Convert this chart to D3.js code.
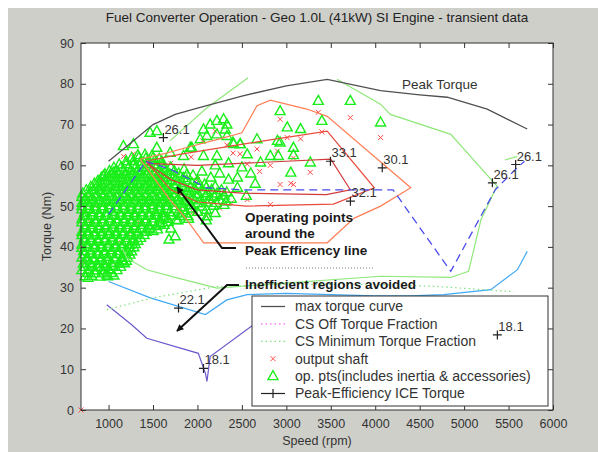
<!DOCTYPE html>
<html>
<head>
<meta charset="utf-8">
<script src="https://cdn.jsdelivr.net/npm/d3@7/dist/d3.min.js"></script>
<style>
  body { margin: 0; background: #fff; }
  text { font-family: Arial, "Liberation Sans", Helvetica, sans-serif; }
</style>
</head>
<body>
<div id="chart"></div>
<script>
// speed in rpm, torque in Nm
const xTicks = [1000, 1500, 2000, 2500, 3000, 3500, 4000, 4500, 5000, 5500, 6000];
const yTicks = [0, 10, 20, 30, 40, 50, 60, 70, 80, 90];

// max torque curve ("Peak Torque")
const maxTorque = [[1000,61],[1250,65.5],[1500,70],[1750,72.5],[2000,74],[2500,77],[3000,79.5],
  [3460,81.1],[4060,78.3],[4500,77.3],[4810,76.7],[5260,73.8],[5710,68.9]];

// efficiency contours
const effCoral = [[1355,61.5],[1650,63],[1900,64.5],[2250,66.5],[2500,68],[2670,74.6],[2820,76],
  [3230,73.8],[3460,72],[4400,54.5],[4060,50],[3760,47],[3460,41],[2070,41],[1880,46.7],[1690,51.6],[1355,61.5]];
const effRed1 = [[1420,61],[1800,62.7],[2600,65.5],[3460,68.4],[3990,54.5],[3530,50.5],[2550,50],
  [2000,51],[1700,54],[1420,61]];
const effRed2 = [[1430,60.5],[2000,60],[3000,61],[3500,61.5],[3720,54],[3450,52.8],[2500,53.2],
  [2000,54],[1700,56.5],[1430,60.5]];
const effGreenA = [[1690,66],[2100,74],[2570,81.5]];
const effGreenB = [[3570,81.1],[4060,75],[4170,72.5],[4850,67.6],[5370,54.9],[5190,46.7],[5050,34],
  [4850,32.5],[4060,32.8],[2220,29.9],[1770,32.4],[1430,34.4],[1205,37.3],[1160,39.5]];
const effGreenC = [[5460,61.3],[5600,62.2]];
const effBlue = [[1000,31.5],[1470,27.5],[2090,23.4],[2330,27],[2560,28.3],[3000,28.6],[3500,28.3],
  [4000,28],[4400,28],[4770,28.3],[5300,29.5],[5600,34.4],[5710,38.9]];
const effPurple = [[980,25.8],[1260,20.9],[1430,17.6],[2010,13.9],[2090,9],[2107,7],[2143,13.1],
  [2630,20.9],[3000,24],[3400,26]];

// peak efficiency line and CS minimum torque fraction
const peakEffLine = [[1000,48],[1420,61],[1700,59],[2100,54.5],[2500,54],[4200,54],[4850,34],
  [5350,54],[5600,59.5],[5680,61]];
const csMinTorque = [[980,24.6],[1500,27.5],[2220,30.3],[3000,30.8],[4000,30.8],[4700,30.3],[5560,29]];

// peak efficiency ICE torque points with their efficiency labels
const peakEffPts = [[1617,66.8],[3496,61],[4079,59.4],[3721,51.2],[5318,55.7],[5580,60.2],
  [1787,25],[2068,10.2],[5374,18.4]];
const peakEffLabels = ["26.1","33.1","30.1","32.1","26.1","26.1","22.1","18.1","18.1"];

// output shaft points
const outputShaft = [[2930,71.3],[3720,71.7],[4060,66.8],[3400,68.2],[3160,66.5],[3010,66.8],[2900,63.5],
  [3080,61.8],[2700,58.5],[3050,55.6],[2930,55.3],[3080,55.3],[2820,50.4],[2560,51.6],[3270,58.3],
  [2400,63],[2480,62.8],[2200,68.4],[2060,66],[2330,65],[1930,62],[1700,60.5],[1540,62],[1280,62.8],
  [1170,62.2],[2820,60],[2560,60.3],[3360,73],[2670,64],[1800,49],[1950,48.5],[2100,47.6],[2250,49.5],
  [2380,50.8],[2150,51.5],[1900,52],[1650,50.5],[1500,48.2],[1350,46],[1250,43.5],[1100,41],[950,44],
  [800,46],[720,48.5],[760,52],[850,50],[700,40],[730,36],[2300,53.5],[2000,56.5],[1750,57.5],[1600,59],[690,0]];

// operating points (includes inertia & accessories)
const opPtsScattered = [[3360,75.8],[3720,75.8],[4060,70.5],[2930,73.3],[3400,70.9],[3010,69.3],[3160,68.9],
  [2670,66.4],[2900,66],[3080,64.3],[2480,65.2],[2910,62.3],[3080,62.5],[3270,60.7],[3050,58.2],[2710,60.7],
  [2820,62.3],[2560,62.7],[2400,65.6],[1920,64.3],[2930,65.6],[1167,64.7],[1280,65.2],[1467,68],[1543,68.4],
  [1937,64.3],[2068,68.8],[2143,70],[2219,70.9],[2294,71.3],[2332,70],[2313,68.8],[2219,67.6],[2106,67.2],
  [2031,66.4],[2332,67.2],[2407,65.2],[2482,65.2],[2068,62.3],[2219,62.3],[1843,62.3],[1693,63.1],[1543,64.3],
  [1054,58.2],[942,57.4],[904,54.9],[716,47.5],[1750,42.6],[1430,44.3],[1580,45.5],[1895,47.5],[2107,47.5],
  [770,32.4],[980,33.2],[1000,34.4],[1220,38.8],[1160,36.4],[1850,59],[1950,57.5],[2050,58.5],[2150,57],
  [2250,58],[2350,56.5],[2450,57],[2200,60],[2350,60.5],[2500,59.5],[2600,58],[2650,55.5],[2450,54.5],
  [2550,52.5],[1620,47],[1700,44.5],[1780,46.5],[1680,41.8]];
const opPtsDense = [
  [735,32.8],[810,32.9],[905,32.7],[990,32.8],[1060,33],
  [700,34.3],[775,34.4],[850,34.2],[930,34.3],[1010,34.5],[1095,34.3],
  [715,35.9],[790,36],[870,35.8],[945,35.9],[1030,36.1],[1120,35.9],[1180,36],
  [700,37.4],[760,37.5],[840,37.3],[915,37.4],[990,37.6],[1065,37.4],[1150,37.5],[1215,37.3],
  [720,39],[800,39.1],[875,38.9],[955,39],[1035,39.2],[1110,39],[1190,39.1],[1260,38.9],
  [700,40.6],[765,40.7],[845,40.5],[920,40.6],[1000,40.8],[1080,40.6],[1160,40.7],[1240,40.5],[1300,40.7],
  [725,42.1],[800,42.2],[880,42],[960,42.1],[1040,42.3],[1120,42.1],[1200,42.2],[1280,42],[1360,42.2],
  [700,43.7],[770,43.8],[850,43.6],[930,43.7],[1010,43.9],[1090,43.7],[1170,43.8],[1250,43.6],[1330,43.8],
  [1420,43.7],[1500,43.9],
  [735,45.3],[815,45.4],[895,45.2],[975,45.3],[1055,45.5],[1135,45.3],[1215,45.4],[1295,45.2],[1375,45.4],
  [1455,45.3],[1540,45.1],[1625,45.4],
  [700,46.8],[780,46.9],[860,46.7],[940,46.8],[1020,47],[1100,46.8],[1180,46.9],[1260,46.7],[1340,46.9],
  [1420,46.8],[1500,47],[1580,46.7],[1665,46.9],[1760,46.6],[1900,46.9],[2100,46.5],
  [730,48.4],[810,48.5],[890,48.3],[970,48.4],[1050,48.6],[1130,48.4],[1210,48.5],[1290,48.3],[1370,48.5],
  [1450,48.4],[1530,48.6],[1610,48.3],[1690,48.5],[1780,48.4],[1870,48.2],[2000,48.6],[2200,48.3],
  [700,50],[775,50.1],[855,49.9],[935,50],[1015,50.2],[1095,50],[1175,50.1],[1255,49.9],[1335,50.1],
  [1415,50],[1495,50.2],[1575,49.9],[1655,50.1],[1740,50],[1830,49.8],[1930,50.2],[2050,49.9],[2180,50.1],[2300,50.3],
  [730,51.5],[810,51.6],[890,51.4],[970,51.5],[1050,51.7],[1130,51.5],[1210,51.6],[1290,51.4],[1370,51.6],
  [1450,51.5],[1530,51.7],[1610,51.4],[1690,51.6],[1775,51.5],[1860,51.3],[1950,51.7],[2040,51.4],[2140,51.6],
  [2250,51.5],[2380,51.8],
  [710,53.1],[790,53.2],[870,53],[950,53.1],[1030,53.3],[1110,53.1],[1190,53.2],[1270,53],[1350,53.2],
  [1430,53.1],[1510,53.3],[1590,53],[1670,53.2],[1750,53.1],[1835,52.9],[1920,53.3],[2010,53],[2110,53.2],
  [2220,53.1],[2330,53.4],
  [800,54.7],[870,54.8],[950,54.6],[1030,54.7],[1110,54.9],[1190,54.7],[1270,54.8],[1350,54.6],[1430,54.8],
  [1510,54.7],[1590,54.9],[1670,54.6],[1750,54.8],[1830,54.7],[1920,54.5],[2010,54.9],[2100,54.6],[2200,54.8],
  [880,56.2],[960,56.3],[1040,56.1],[1120,56.2],[1200,56.4],[1280,56.2],[1360,56.3],[1440,56.1],[1520,56.3],
  [1600,56.2],[1690,56.4],[1780,56.1],[1880,56.3],[2000,56.2],
  [960,57.8],[1040,57.9],[1120,57.7],[1200,57.8],[1280,58],[1360,57.8],[1440,57.9],[1520,57.7],[1600,57.9],
  [1690,57.8],[1790,58],[1880,57.7],
  [1060,59.4],[1140,59.5],[1220,59.3],[1300,59.4],[1380,59.6],[1460,59.4],[1540,59.5],[1620,59.3],[1700,59.5],
  [1200,61],[1280,61.1],[1360,60.9],[1440,61],[1520,61.2],[1600,60.9],
  [1330,62.5],[1410,62.6],[1490,62.4]
];
// second layer of the dense cloud, sitting between the points above
const opPtsDense2 = [
  [770,33.6],[850,33.5],[945,33.7],[1030,33.6],
  [735,35.1],[815,35.2],[890,35],[970,35.1],[1050,35.3],[1135,35.1],
  [750,36.7],[830,36.8],[905,36.6],[985,36.7],[1070,36.9],[1150,36.7],[1200,36.6],
  [730,38.2],[800,38.3],[880,38.1],[955,38.2],[1030,38.4],[1105,38.2],[1185,38.3],[1240,38.1],
  [700,39.8],[760,39.9],[840,39.7],[915,39.8],[995,40],[1075,39.8],[1150,39.9],[1230,39.7],[1285,39.9],
  [730,41.4],[805,41.5],[885,41.3],[960,41.4],[1040,41.6],[1120,41.4],[1200,41.5],[1270,41.3],[1330,41.5],
  [700,42.9],[765,43],[840,42.8],[920,42.9],[1000,43.1],[1080,42.9],[1160,43],[1240,42.8],[1320,43],[1400,42.9],
  [735,44.5],[810,44.6],[890,44.4],[970,44.5],[1050,44.7],[1130,44.5],[1210,44.6],[1290,44.4],[1375,44.6],
  [1460,44.5],[1550,44.3],
  [700,46],[775,46.1],[855,45.9],[935,46],[1015,46.2],[1095,46],[1175,46.1],[1255,45.9],[1335,46.1],
  [1415,46],[1500,46.2],[1580,45.9],[1670,46.1],
  [740,47.6],[820,47.7],[900,47.5],[980,47.6],[1060,47.8],[1140,47.6],[1220,47.7],[1300,47.5],[1380,47.7],
  [1460,47.6],[1540,47.8],[1620,47.5],[1710,47.7],[1820,47.6],
  [700,49.2],[770,49.3],[850,49.1],[930,49.2],[1010,49.4],[1090,49.2],[1170,49.3],[1250,49.1],[1330,49.3],
  [1410,49.2],[1490,49.4],[1570,49.1],[1650,49.3],[1740,49.2],[1830,49],[1940,49.4],[2100,49.1],
  [700,50.8],[770,50.9],[850,50.7],[930,50.8],[1010,51],[1090,50.8],[1170,50.9],[1250,50.7],[1330,50.9],
  [1410,50.8],[1490,51],[1570,50.7],[1650,50.9],[1730,50.8],[1820,50.6],[1910,51],[2000,50.7],[2100,50.9],
  [2210,50.8],[2320,51.1],
  [700,52.3],[770,52.4],[850,52.2],[930,52.3],[1010,52.5],[1090,52.3],[1170,52.4],[1250,52.2],[1330,52.4],
  [1410,52.3],[1490,52.5],[1570,52.2],[1650,52.4],[1735,52.3],[1820,52.1],[1905,52.5],[1995,52.2],[2090,52.4],
  [2190,52.3],[2300,52.6],
  [750,53.9],[830,54],[910,53.8],[990,53.9],[1070,54.1],[1150,53.9],[1230,54],[1310,53.8],[1390,54],
  [1470,53.9],[1550,54.1],[1630,53.8],[1710,54],[1790,53.9],[1880,53.7],[1965,54.1],[2060,53.8],[2160,54],[2270,53.9],
  [840,55.5],[920,55.6],[1000,55.4],[1080,55.5],[1160,55.7],[1240,55.5],[1320,55.6],[1400,55.4],[1480,55.6],
  [1560,55.5],[1640,55.7],[1730,55.4],[1830,55.6],[1940,55.5],[2080,55.3],
  [920,57],[1000,57.1],[1080,56.9],[1160,57],[1240,57.2],[1320,57],[1400,57.1],[1480,56.9],[1560,57.1],
  [1640,57],[1735,57.2],[1840,56.9],
  [1010,58.6],[1090,58.7],[1170,58.5],[1250,58.6],[1330,58.8],[1410,58.6],[1490,58.7],[1570,58.5],[1650,58.7],[1740,58.6],
  [1120,60.2],[1200,60.3],[1280,60.1],[1360,60.2],[1440,60.4],[1520,60.2],[1600,60.1],
  [1260,61.8],[1340,61.9],[1420,61.7],[1500,61.8],[1570,61.6]
];

const legendLabels = ["max torque curve", "CS Off Torque Fraction", "CS Minimum Torque Fraction",
  "output shaft", "op. pts(includes inertia & accessories)", "Peak-Efficiency ICE Torque"];

// frame of the axes in the 598x452 window
const frame = { left: 81, right: 553, top: 43, bottom: 410 };

const svg = d3.select("#chart")
  .append("svg")
  .attr("width", 598)
  .attr("height", 452);

// grey figure background and white axes
svg.append("rect").attr("width", 598).attr("height", 452).attr("fill", "#fff");
svg.append("rect").attr("x", 8).attr("y", 8).attr("width", 590).attr("height", 444).attr("fill", "#cfcfca");
svg.append("rect")
  .attr("x", frame.left).attr("y", frame.top)
  .attr("width", frame.right - frame.left).attr("height", frame.bottom - frame.top)
  .attr("fill", "#fff");

const x = d3.scaleLinear().domain([690, 6000]).range([frame.left, frame.right]);
const y = d3.scaleLinear().domain([0, 90]).range([frame.bottom, frame.top]);

const line = d3.line()
  .x(d => x(d[0]))
  .y(d => y(d[1]));

// output shaft crosses
const cross = "M-2.5,-2.5L2.5,2.5M-2.5,2.5L2.5,-2.5";
svg.selectAll(".shaft")
  .data(outputShaft)
  .enter()
  .append("path")
  .attr("class", "shaft")
  .attr("transform", d => `translate(${x(d[0])},${y(d[1])})`)
  .attr("d", cross)
  .attr("stroke", "#ff4a4a")
  .attr("stroke-width", 1)
  .attr("fill", "none");

// operating point triangles
const tri = "M0,-5.5L5,3.5L-5,3.5Z";
svg.selectAll(".op")
  .data(opPtsDense.concat(opPtsDense2, opPtsScattered))
  .enter()
  .append("path")
  .attr("class", "op")
  .attr("transform", d => `translate(${x(d[0])},${y(d[1])})`)
  .attr("d", tri)
  .attr("fill", "none")
  .attr("stroke", "#1aee1a")
  .attr("stroke-width", 1.4);

// contour lines, drawn over the cloud
const contours = [
  { data: effGreenA, color: "#8fe87a" },
  { data: effGreenB, color: "#8fe87a" },
  { data: effGreenC, color: "#8fe87a" },
  { data: effBlue, color: "#3fa9f5" },
  { data: effPurple, color: "#6a5acd" },
  { data: effCoral, color: "#ff7f55" },
  { data: effRed1, color: "#ea4a3c" },
  { data: effRed2, color: "#d23a3a" }
];
svg.selectAll(".contour")
  .data(contours)
  .enter()
  .append("path")
  .attr("class", "contour")
  .attr("fill", "none")
  .attr("stroke", d => d.color)
  .attr("stroke-width", 1.2)
  .attr("d", d => line(d.data));

// CS minimum torque fraction (dotted)
svg.append("path")
  .attr("fill", "none")
  .attr("stroke", "#7fe07f")
  .attr("stroke-width", 1.2)
  .attr("stroke-dasharray", "1.5,3")
  .attr("d", line(csMinTorque));

// max torque curve
svg.append("path")
  .attr("fill", "none")
  .attr("stroke", "#505050")
  .attr("stroke-width", 1.3)
  .attr("d", line(maxTorque));

// peak efficiency line (dashed)
svg.append("path")
  .attr("fill", "none")
  .attr("stroke", "#4b4bee")
  .attr("stroke-width", 1.3)
  .attr("stroke-dasharray", "8,5")
  .attr("d", line(peakEffLine));

// axes, ticks pointing inwards on all four sides
svg.append("g")
  .attr("transform", `translate(0,${frame.bottom})`)
  .call(d3.axisBottom(x).tickValues(xTicks).tickSize(-5).tickPadding(9).tickFormat(d3.format("d")));
svg.append("g")
  .attr("transform", `translate(0,${frame.top})`)
  .call(d3.axisTop(x).tickValues(xTicks).tickSize(-5).tickFormat(""));
svg.append("g")
  .attr("transform", `translate(${frame.left},0)`)
  .call(d3.axisLeft(y).tickValues(yTicks).tickSize(-5).tickPadding(7));
svg.append("g")
  .attr("transform", `translate(${frame.right},0)`)
  .call(d3.axisRight(y).tickValues(yTicks).tickSize(-5).tickFormat(""));
svg.selectAll(".domain").remove();
svg.selectAll(".tick line").attr("stroke", "#333");
svg.selectAll(".tick text")
  .attr("font-size", 12.5)
  .attr("font-family", "Arial, 'Liberation Sans', sans-serif")
  .attr("fill", "#333");

svg.append("rect")
  .attr("x", frame.left).attr("y", frame.top)
  .attr("width", frame.right - frame.left).attr("height", frame.bottom - frame.top)
  .attr("fill", "none")
  .attr("stroke", "#333")
  .attr("stroke-width", 1);

// title and axis labels
svg.append("text")
  .attr("x", (frame.left + frame.right) / 2)
  .attr("y", 22)
  .attr("text-anchor", "middle")
  .attr("font-size", 13.5)
  .attr("fill", "#222")
  .text("Fuel Converter Operation - Geo 1.0L (41kW) SI Engine - transient data");
svg.append("text")
  .attr("x", (frame.left + frame.right) / 2)
  .attr("y", 445)
  .attr("text-anchor", "middle")
  .attr("font-size", 12.5)
  .attr("fill", "#333")
  .text("Speed (rpm)");
svg.append("text")
  .attr("transform", `translate(51,${(frame.top + frame.bottom) / 2}) rotate(-90)`)
  .attr("text-anchor", "middle")
  .attr("font-size", 12.5)
  .attr("fill", "#333")
  .text("Torque (Nm)");

// "Peak Torque" label
svg.append("text")
  .attr("x", 402)
  .attr("y", 89)
  .attr("font-size", 13.5)
  .attr("fill", "#333")
  .text("Peak Torque");

// annotations with arrows
svg.append("defs").append("marker")
  .attr("id", "head")
  .attr("viewBox", "0 0 10 10")
  .attr("refX", 9).attr("refY", 5)
  .attr("markerWidth", 9).attr("markerHeight", 7)
  .attr("markerUnits", "userSpaceOnUse")
  .attr("orient", "auto")
  .append("path")
  .attr("d", "M0,0L10,5L0,10Z")
  .attr("fill", "#111");

svg.append("path")
  .attr("d", "M236,248L222,248L177,187")
  .attr("fill", "none")
  .attr("stroke", "#111")
  .attr("stroke-width", 2)
  .attr("marker-end", "url(#head)");
svg.append("path")
  .attr("d", "M239,285L227,285L177,331")
  .attr("fill", "none")
  .attr("stroke", "#111")
  .attr("stroke-width", 2)
  .attr("marker-end", "url(#head)");

const noteLines = [["Operating points", 221.5], ["around the", 237.5], ["Peak Efficency line", 254.5],
  ["Inefficient regions avoided", 289]];
svg.selectAll(".note")
  .data(noteLines)
  .enter()
  .append("text")
  .attr("class", "note")
  .attr("x", 245)
  .attr("y", d => d[1])
  .attr("font-size", 13.5)
  .attr("font-weight", "bold")
  .attr("fill", "#1a1a1a")
  .text(d => d[0]);
svg.append("line")
  .attr("x1", 246).attr("x2", 375)
  .attr("y1", 268).attr("y2", 268)
  .attr("stroke", "#777")
  .attr("stroke-dasharray", "1,2");

// legend
const legend = svg.append("g");
legend.append("rect")
  .attr("x", 252).attr("y", 296)
  .attr("width", 296).attr("height", 110)
  .attr("fill", "#fff")
  .attr("stroke", "#333");
const legendY = i => 306.5 + i * 17.4;
legend.selectAll(".legtext")
  .data(legendLabels)
  .enter()
  .append("text")
  .attr("x", 295)
  .attr("y", (d, i) => legendY(i))
  .attr("dy", "0.35em")
  .attr("font-size", 14)
  .attr("fill", "#333")
  .text(d => d);
legend.append("line").attr("x1", 261).attr("x2", 285).attr("y1", legendY(0)).attr("y2", legendY(0))
  .attr("stroke", "#505050").attr("stroke-width", 1.3);
legend.append("line").attr("x1", 261).attr("x2", 285).attr("y1", legendY(1)).attr("y2", legendY(1))
  .attr("stroke", "#ff66ff").attr("stroke-width", 1.2).attr("stroke-dasharray", "1.5,3");
legend.append("line").attr("x1", 261).attr("x2", 285).attr("y1", legendY(2)).attr("y2", legendY(2))
  .attr("stroke", "#7fe07f").attr("stroke-width", 1.2).attr("stroke-dasharray", "1.5,3");
legend.append("path").attr("transform", `translate(273,${legendY(3)})`).attr("d", cross)
  .attr("stroke", "#ff4a4a").attr("fill", "none");
legend.append("path").attr("transform", `translate(273,${legendY(4)})`).attr("d", tri)
  .attr("stroke", "#1aee1a").attr("stroke-width", 1.3).attr("fill", "none");
legend.append("line").attr("x1", 261).attr("x2", 285).attr("y1", legendY(5)).attr("y2", legendY(5))
  .attr("stroke", "#222").attr("stroke-width", 1.2);
legend.append("path").attr("transform", `translate(273,${legendY(5)})`).attr("d", "M-4.5,0L4.5,0M0,-4.5L0,4.5")
  .attr("stroke", "#222").attr("stroke-width", 1.2);

// peak efficiency ICE torque markers, drawn last (one sits over the legend)
const plus = "M-4.5,0L4.5,0M0,-4.5L0,4.5";
svg.selectAll(".pe")
  .data(peakEffPts)
  .enter()
  .append("path")
  .attr("class", "pe")
  .attr("transform", d => `translate(${x(d[0])},${y(d[1])})`)
  .attr("d", plus)
  .attr("stroke", "#222")
  .attr("stroke-width", 1.2);
svg.selectAll(".pelabel")
  .data(peakEffPts)
  .enter()
  .append("text")
  .attr("class", "pelabel")
  .attr("x", d => x(d[0]) + 1)
  .attr("y", d => y(d[1]) - 4)
  .attr("font-size", 13)
  .attr("fill", "#333")
  .text((d, i) => peakEffLabels[i]);
</script>
</body>
</html>
